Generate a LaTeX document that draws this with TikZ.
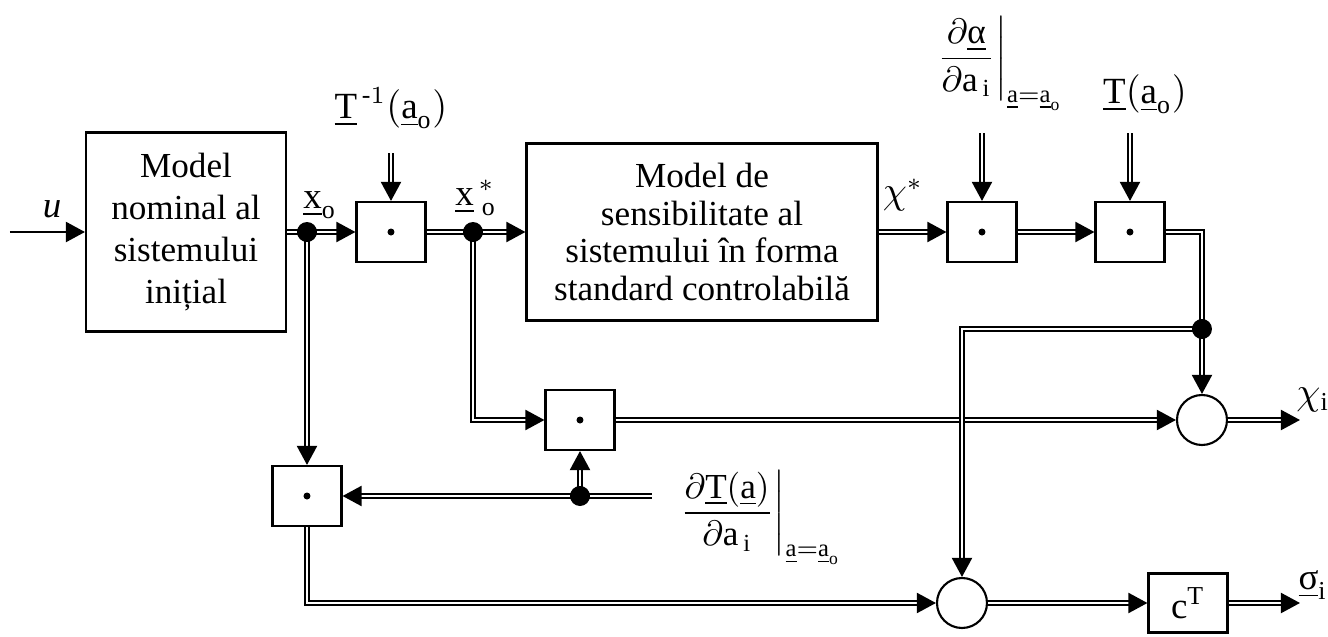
\documentclass[tikz,border=0pt]{standalone}
\usepackage{amsmath}
\usepackage{fontspec}
\setmainfont{Liberation Serif}
\usetikzlibrary{arrows.meta,positioning}

\begin{document}
\begin{tikzpicture}[
  x=0.1mm, y=-0.1mm,
  blk/.style={draw, line width=0.6pt, align=center, inner sep=2pt},
  mul/.style={draw, line width=0.6pt, minimum width=6.9mm, minimum height=6mm, inner sep=0pt,
              path picture={\fill (path picture bounding box.center) circle (0.35mm);}},
  sumc/.style={draw, circle, line width=0.6pt, minimum size=5mm, inner sep=0pt},
  jn/.style={circle, fill, inner sep=0pt, minimum size=2mm},
  lbl/.style={font=\fontsize{10.5}{12}\selectfont, inner sep=1pt},
  frac/.style={font=\fontsize{10}{12}\selectfont, inner sep=1pt},
  sig/.style={double, double distance=0.25mm, line width=0.2mm},
  ar/.style={-{Triangle[length=1.9mm, width=2mm]}},
]
\useasboundingbox (0,0) rectangle (1328,637);

\node[blk, minimum width=20mm, minimum height=19.9mm, font=\fontsize{10}{12}\selectfont] (m1) at (186,232)
  {Model\\nominal al\\sistemului\\inițial};
\node[mul] (p1) at (391,232) {};
\node[blk, minimum width=35.1mm, minimum height=17.7mm, font=\fontsize{10}{10.7}\selectfont] (m2) at (702,232)
  {Model de\\sensibilitate al\\sistemului în forma\\standard controlabilă};
\node[mul] (p2) at (982,232) {};
\node[mul] (p3) at (1130,232) {};
\node[mul] (p4) at (580,420) {};
\node[mul] (p5) at (307,496) {};
\node[sumc] (s1) at (1202,420) {};
\node[sumc] (s2) at (962,603) {};
\node[blk, minimum width=7.9mm, minimum height=5.9mm, inner sep=0pt, font=\fontsize{10.5}{12}\selectfont] (ct) at (1188,603)
  {c\textsuperscript{T}};

\coordinate (uin) at (10,232);
\coordinate (tin1) at (391,153);
\coordinate (tin2) at (982,133);
\coordinate (tin3) at (1130,133);
\coordinate (dT) at (652,496);
\coordinate (xout) at (1300,420);
\coordinate (sout) at (1300,603);
\coordinate (j1) at (307,232);
\coordinate (j2) at (473,232);
\coordinate (j3) at (1202,329);
\coordinate (j4) at (580,496);

\draw[ar, line width=0.6pt] (uin) -- (m1);
\draw[sig, ar] (m1) -- (p1);
\draw[sig, ar] (j1) -- (p5);
\draw[sig, ar] (p1) -- (m2);
\draw[sig, ar] (j2) |- (p4);
\draw[sig, ar] (m2) -- (p2);
\draw[sig, ar] (p2) -- (p3);
\draw[sig, ar] (p3) -| (s1);
\draw[sig, ar] (p4) -- (s1);
\draw[sig, ar] (j3) -| (s2);
\draw[sig, ar] (s1) -- (xout);
\draw[sig, ar] (dT) -- (p5);
\draw[sig, ar] (j4) -- (p4);
\draw[sig, ar] (p5) |- (s2);
\draw[sig, ar] (s2) -- (ct);
\draw[sig, ar] (ct) -- (sout);
\draw[sig, ar] (tin1) -- (p1);
\draw[sig, ar] (tin2) -- (p2);
\draw[sig, ar] (tin3) -- (p3);

\foreach \j in {j1,j2,j3,j4}
  \node[jn] at (\j) {};

\node[lbl] at (52,209) {\textit{u}};
\node[lbl] at (320,205) {$\underline{\mathrm{x}}_{\mathrm{o}}$};
\node[lbl] at (476,198) {$\underline{\mathrm{x}}^{\,*}_{\;\mathrm{o}}$};
\node[lbl, above=2mm of tin1] (tlbl1) {$\underline{\mathrm{T}}^{\,\text{-}1}(\underline{\mathrm{a}}_{\mathrm{o}})$};
\node[lbl] at (903,195) {$\chi^{*}$};
\node[frac, above=1.8mm of tin2, xshift=1.6mm] (dalbl)
  {$\left.\dfrac{\partial\underline{\text{α}}}{\partial\mathrm{a}_{\,\mathrm{i}}}\right|_{\underline{\mathrm{a}}=\underline{\mathrm{a}}_{\mathrm{o}}}$};
\node[lbl, above=1.5mm of tin3, xshift=1.5mm] (tlbl3) {$\underline{\mathrm{T}}(\underline{\mathrm{a}}_{\mathrm{o}})$};
\node[frac, right=2mm of dT, yshift=-2.2mm] (dTlbl)
  {$\left.\dfrac{\partial\underline{\mathrm{T}}(\underline{\mathrm{a}})}{\partial\mathrm{a}_{\,\mathrm{i}}}\right|_{\underline{\mathrm{a}}=\underline{\mathrm{a}}_{\mathrm{o}}}$};
\node[lbl] at (1313,400) {$\chi_{\mathrm{i}}$};
\node[lbl] at (1313,585) {$\underline{\text{σ}}_{\mathrm{i}}$};
\end{tikzpicture}
\end{document}
